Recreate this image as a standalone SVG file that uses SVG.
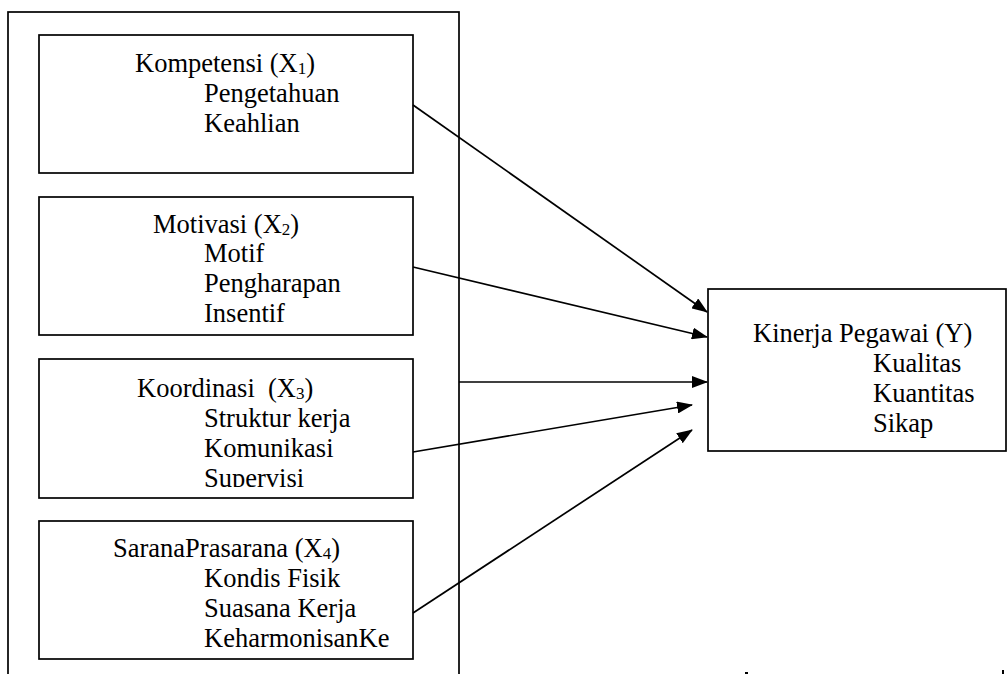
<svg xmlns="http://www.w3.org/2000/svg" width="1007" height="674" viewBox="0 0 1007 674">
<style>
.box{fill:#fff;stroke:#000;stroke-width:1.7}
.outer{fill:none;stroke:#000;stroke-width:1.7}
.t{font-family:"Liberation Serif","Times New Roman",serif;font-size:26.5px;fill:#000}
.sub{font-size:17px}
.c{stroke:#000;stroke-width:1.7;fill:none;marker-end:url(#ah)}
</style>
<defs>
<marker id="ah" viewBox="0 0 16 12" refX="15" refY="6" markerWidth="16" markerHeight="12" markerUnits="userSpaceOnUse" orient="auto">
<path d="M0,0 L16,6 L0,12 z" fill="#000"/>
</marker>
<clipPath id="clip3"><rect x="39" y="359" width="374" height="128"/></clipPath>
</defs>
<rect width="1007" height="674" fill="#fff"/>
<g id="outer-group">
<rect class="outer" x="8" y="12" width="451" height="700"/>
</g>
<g id="x1">
<rect class="box" x="39" y="35" width="374" height="138"/>
<text class="t" x="135" y="72">Kompetensi (X<tspan class="sub" dy="2">1</tspan><tspan dy="-2">)</tspan></text>
<text class="t" x="204" y="102">Pengetahuan</text>
<text class="t" x="204" y="132">Keahlian</text>
</g>
<g id="x2">
<rect class="box" x="39" y="197" width="374" height="138"/>
<text class="t" x="153" y="233">Motivasi (X<tspan class="sub" dy="2">2</tspan><tspan dy="-2">)</tspan></text>
<text class="t" x="204" y="262">Motif</text>
<text class="t" x="204" y="292">Pengharapan</text>
<text class="t" x="204" y="322">Insentif</text>
</g>
<g id="x3">
<rect class="box" x="39" y="359" width="374" height="139"/>
<text class="t" x="137" y="397" xml:space="preserve">Koordinasi  (X<tspan class="sub" dy="2">3</tspan><tspan dy="-2">)</tspan></text>
<text class="t" x="204" y="427">Struktur kerja</text>
<text class="t" x="204" y="457">Komunikasi</text>
<text class="t" x="204" y="487" clip-path="url(#clip3)">Supervisi</text>
</g>
<g id="x4">
<rect class="box" x="39" y="521" width="374" height="138"/>
<text class="t" x="113" y="557">SaranaPrasarana (X<tspan class="sub" dy="2">4</tspan><tspan dy="-2">)</tspan></text>
<text class="t" x="204" y="587">Kondis Fisik</text>
<text class="t" x="204" y="617">Suasana Kerja</text>
<text class="t" x="204" y="647">KeharmonisanKe</text>
</g>
<g id="y">
<rect class="box" x="708" y="289" width="298" height="162"/>
<text class="t" x="753" y="342">Kinerja Pegawai (Y)</text>
<text class="t" x="873" y="372">Kualitas</text>
<text class="t" x="873" y="402">Kuantitas</text>
<text class="t" x="873" y="432">Sikap</text>
</g>
<g id="connectors">
<line class="c" x1="413" y1="105" x2="707" y2="312"/>
<line class="c" x1="413" y1="267" x2="707" y2="337"/>
<line class="c" x1="459" y1="382" x2="707" y2="382"/>
<line class="c" x1="413" y1="452" x2="692" y2="405"/>
<line class="c" x1="413" y1="613" x2="692" y2="430"/>
</g>
<g id="marks">
<rect x="745" y="672" width="3" height="2" fill="#000"/>
<rect x="1002" y="670" width="2" height="4" fill="#000"/>
</g>
</svg>
